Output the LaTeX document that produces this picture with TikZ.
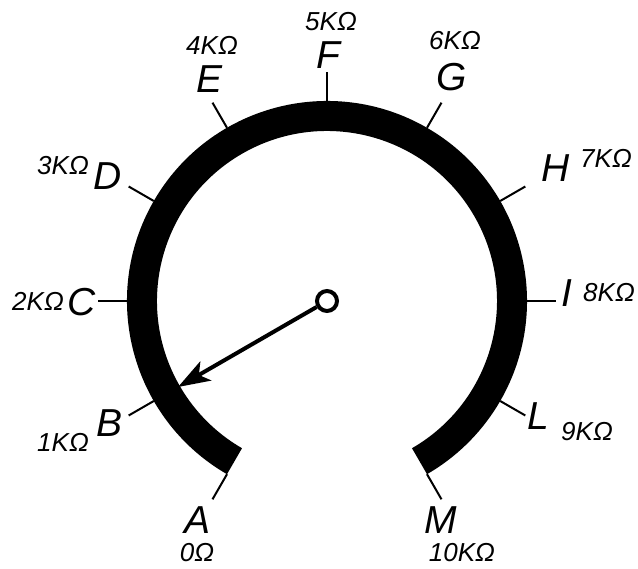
\documentclass[tikz,border=0pt]{standalone}
\usepackage{fontspec}
\setmainfont{Liberation Sans}
\usetikzlibrary{calc, arrows.meta}

\begin{document}
\begin{tikzpicture}[x=1pt, y=1pt,
    letter/.style={font=\fontsize{39}{39}\selectfont\itshape, inner sep=0pt},
    ohms/.style={font=\fontsize{26}{26}\selectfont\itshape, inner sep=0pt},
    tickline/.style={line width=2pt},
    wiper/.style={line width=4pt, -{Stealth[length=32pt, width=22pt, inset=8pt]}}]
    \useasboundingbox (-327,-268) rectangle (311,301);
    % Centre of the dial
    \coordinate (O) at (0,0);

    % Resistive track, from 240 deg round to -60 deg
    \fill (240:200) arc[start angle=240, end angle=-60, radius=200]
        -- (-60:170) arc[start angle=-60, end angle=240, radius=170] -- cycle;

    % Ticks and contact letters
    \foreach \ang/\name/\lx/\ly in {240/A/-129/-219, 210/B/-217/-122, 180/C/-245/-1,
        150/D/-219/125, 120/E/-117/222, 90/F/1/246, 60/G/125/224,
        30/H/229/133, 0/I/240/8, -30/L/211/-115, -60/M/114/-219}{
        \coordinate (T\name) at (\ang:200); % on the track
        \coordinate (U\name) at (\ang:229); % outer end of tick
        \draw[tickline] (T\name) -- (U\name);
        \node[letter] (\name) at (\lx,\ly) {\name};
    }

    % Resistance values next to each letter
    \foreach \name/\res/\dx/\dy in {A/0Ω/-1/-33, B/1KΩ/-47/-19, C/2KΩ/-44/1,
        D/3KΩ/-45/10, E/4KΩ/2/34, F/5KΩ/3/33, G/6KΩ/3/36,
        H/7KΩ/50/10, I/8KΩ/42/0, L/9KΩ/49/-16, M/10KΩ/21/-33}{
        \node[ohms] (v\name) at ($(\name)+(\dx,\dy)$) {\res};
    }

    % Wiper with its pivot
    \coordinate (W) at (210:172);
    \node[circle, draw, line width=4pt, fill=white, minimum size=20pt, inner sep=0pt] (P) at (O) {};
    \draw[wiper] (P) -- (W);
\end{tikzpicture}
\end{document}
